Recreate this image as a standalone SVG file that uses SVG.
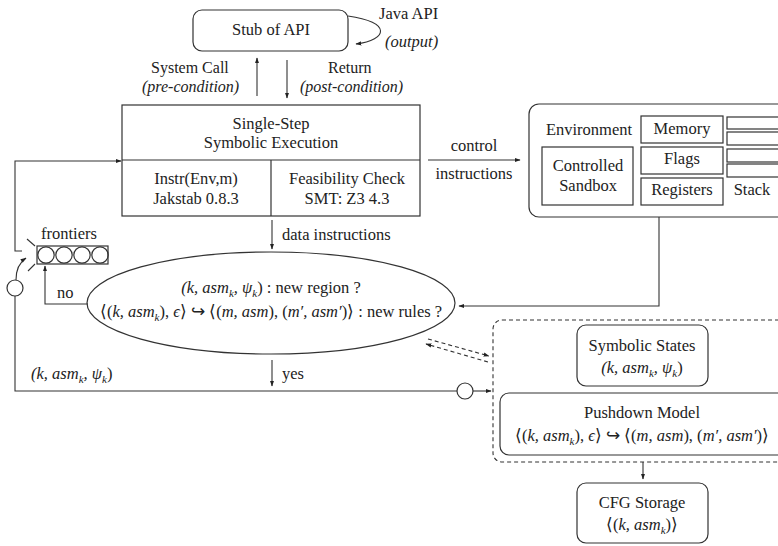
<svg xmlns="http://www.w3.org/2000/svg" width="778" height="546" viewBox="0 0 778 546" font-family="'Liberation Serif', 'Times New Roman', serif">
<style>
text{font-family:"Liberation Serif","Times New Roman",serif;font-size:16.5px;fill:#222;}
.m{text-anchor:middle}
.i{font-style:italic}
.s{font-size:16px}
.b{fill:none;stroke:#333;stroke-width:1.2}
.l{fill:none;stroke:#333;stroke-width:1.1}
.d{fill:none;stroke:#333;stroke-width:1.1;stroke-dasharray:4 3}
.sub{font-size:11px;font-style:italic}
</style>
<defs>
<marker id="a" viewBox="0 0 10 10" refX="9" refY="5" markerWidth="6" markerHeight="6" orient="auto" markerUnits="userSpaceOnUse"><path d="M0,1.5 L10,5 L0,8.5 Z" fill="#222"/></marker>
</defs>

<g id="stub">
<rect class="b" x="193" y="10" width="155" height="41" rx="9"/>
<text class="m" x="271" y="35">Stub of API</text>
<text x="379" y="19">Java API</text>
<text class="i" x="385" y="47">(output)</text>
</g>

<g id="sse">
<rect class="b" x="122" y="105" width="298" height="111"/>
<line class="b" x1="122" y1="160" x2="420" y2="160"/>
<line class="b" x1="271" y1="160" x2="271" y2="216"/>
<text class="m" x="271" y="129">Single-Step</text>
<text class="m" x="271" y="148">Symbolic Execution</text>
<text class="m" x="196" y="184">Instr(Env,m)</text>
<text class="m" x="196" y="204">Jakstab 0.8.3</text>
<text class="m" x="347" y="184">Feasibility Check</text>
<text class="m" x="347" y="204">SMT: Z3 4.3</text>
</g>

<g id="env">
<rect class="b" x="529" y="104" width="262" height="113" rx="10"/>
<text class="m" x="589" y="135">Environment</text>
<rect class="b" x="641" y="116" width="82" height="27"/>
<text class="m" x="682" y="134">Memory</text>
<rect class="b" x="542" y="147" width="91" height="58"/>
<text class="m" x="588" y="171">Controlled</text>
<text class="m" x="588" y="191">Sandbox</text>
<rect class="b" x="641" y="147" width="82" height="27"/>
<text class="m" x="682" y="164">Flags</text>
<rect class="b" x="641" y="178" width="82" height="27"/>
<text class="m" x="682" y="195">Registers</text>
<rect class="b" x="727" y="117" width="60" height="12"/>
<rect class="b" x="727" y="132" width="60" height="13"/>
<rect class="b" x="727" y="149" width="60" height="13"/>
<rect class="b" x="727" y="164" width="60" height="13"/>
<text class="m" x="752" y="195">Stack</text>
</g>

<g id="frontiers">
<text class="m" x="69" y="239">frontiers</text>
<rect class="b" x="37" y="246" width="71" height="18"/>
<circle class="b" cx="46" cy="255" r="8.2"/>
<circle class="b" cx="64" cy="255" r="8.2"/>
<circle class="b" cx="82" cy="255" r="8.2"/>
<circle class="b" cx="100" cy="255" r="8.2"/>
<line class="l" x1="27" y1="239" x2="35" y2="246"/>
<line class="l" x1="28" y1="271" x2="35" y2="264"/>
<circle class="b" cx="15" cy="288" r="8"/>
</g>

<g id="check">
<ellipse class="b" cx="271" cy="303" rx="184" ry="51"/>
<text class="m" x="271" y="293"><tspan class="i">(k, asm</tspan><tspan class="sub" dy="4">k</tspan><tspan class="i" dy="-4">, ψ</tspan><tspan class="sub" dy="4">k</tspan><tspan dy="-4">) : new region ?</tspan></text>
<text class="m" x="271" y="317">⟨(<tspan class="i">k, asm</tspan><tspan class="sub" dy="4">k</tspan><tspan dy="-4">), </tspan><tspan class="i">ϵ</tspan>⟩ ↪ ⟨(<tspan class="i">m, asm</tspan>), (<tspan class="i">m′, asm′</tspan>)⟩ : new rules ?</text>
</g>

<g id="model">
<rect class="d" x="493" y="320" width="300" height="142" rx="9"/>
</g>

<g id="symstates">
<rect class="b" x="577" y="325" width="131" height="61" rx="9"/>
<text class="m" x="642" y="351">Symbolic States</text>
<text class="m" x="642" y="373"><tspan class="i">(k, asm</tspan><tspan class="sub" dy="4">k</tspan><tspan class="i" dy="-4">, ψ</tspan><tspan class="sub" dy="4">k</tspan><tspan dy="-4">)</tspan></text>
</g>

<g id="pushdown">
<rect class="b" x="500" y="393" width="290" height="62" rx="9"/>
<text class="m" x="642" y="418">Pushdown Model</text>
<text class="m" x="642" y="441">⟨(<tspan class="i">k, asm</tspan><tspan class="sub" dy="4">k</tspan><tspan dy="-4">), </tspan><tspan class="i">ϵ</tspan>⟩ ↪ ⟨(<tspan class="i">m, asm</tspan>), (<tspan class="i">m′, asm′</tspan>)⟩</text>
</g>

<g id="cfg">
<rect class="b" x="577" y="483" width="131" height="60" rx="9"/>
<text class="m" x="642" y="508">CFG Storage</text>
<text class="m" x="642" y="530">⟨(<tspan class="i">k, asm</tspan><tspan class="sub" dy="4">k</tspan><tspan dy="-4">)⟩</tspan></text>
</g>

<g id="connectors">
<path class="l" d="M348,16 C392,22 388,40 356,44" marker-end="url(#a)"/>
<line class="l" x1="257" y1="96" x2="257" y2="58" marker-end="url(#a)"/>
<line class="l" x1="287" y1="60" x2="287" y2="98" marker-end="url(#a)"/>
<text class="s" x="151" y="73">System Call</text>
<text class="i s" x="142" y="92">(pre-condition)</text>
<text class="s" x="328" y="73">Return</text>
<text class="i s" x="300" y="92">(post-condition)</text>

<line class="l" x1="428" y1="160" x2="520" y2="160" marker-end="url(#a)"/>
<text class="m" x="474" y="151">control</text>
<text class="m" x="474" y="179">instructions</text>

<line class="l" x1="272" y1="220" x2="272" y2="249" marker-end="url(#a)"/>
<text x="282" y="240">data instructions</text>

<path class="l" d="M22,251 H15 V161 H121" marker-end="url(#a)"/>
<path class="l" d="M16,280 C16,270 20,262 26,258" marker-end="url(#a)"/>
<path class="l" d="M88,304 H45 V266" marker-end="url(#a)"/>
<text x="57" y="298">no</text>

<path class="l" d="M659,217 V306 H459" marker-end="url(#a)"/>

<line class="l" x1="272" y1="360" x2="272" y2="386" marker-end="url(#a)"/>
<text x="282" y="379">yes</text>

<path class="l" d="M15,296 V391 H457"/>
<circle class="b" cx="465" cy="391" r="8"/>
<line class="l" x1="473" y1="391" x2="491" y2="391" marker-end="url(#a)"/>
<text x="31" y="379"><tspan class="i">(k, asm</tspan><tspan class="sub" dy="4">k</tspan><tspan class="i" dy="-4">, ψ</tspan><tspan class="sub" dy="4">k</tspan><tspan dy="-4">)</tspan></text>

<line class="d" x1="428" y1="339" x2="489" y2="356" marker-end="url(#a)"/>
<line class="d" x1="488" y1="362" x2="426" y2="344" marker-end="url(#a)"/>

<line class="l" x1="643" y1="462" x2="643" y2="479" marker-end="url(#a)"/>
</g>
</svg>
